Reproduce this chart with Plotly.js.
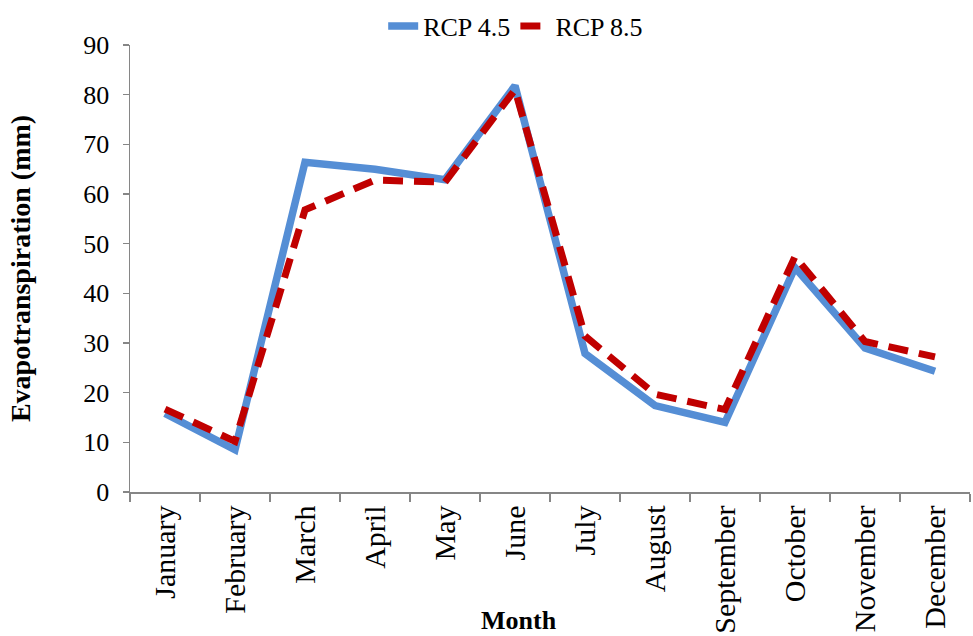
<!DOCTYPE html>
<html lang="en">
  <head>
    <meta charset="UTF-8" />
    <title>Evapotranspiration by Month</title>
    <script src="https://cdn.plot.ly/plotly-3.0.1.min.js"></script>
    <style>
      html,
      body {
        margin: 0;
        padding: 0;
        background: #ffffff;
      }
      #chart {
        width: 973px;
        height: 636px;
      }
    </style>
  </head>
  <body>
    <div id="chart"></div>
    <script>
      // values
      const months = [
        "January", "February", "March", "April", "May", "June",
        "July", "August", "September", "October", "November", "December",
      ];
      const rcp45 = [15.8, 8.5, 66.4, 65.0, 62.9, 81.8, 27.9, 17.4, 14.0, 45.2, 29.0, 24.3];
      const rcp85 = [16.7, 10.2, 56.8, 62.8, 62.4, 81.0, 31.4, 19.7, 16.6, 47.4, 30.3, 27.2];
      const yTicks = [0, 10, 20, 30, 40, 50, 60, 70, 80, 90];

      const serif = "Liberation Serif, Times New Roman, serif";

      const traces = [
        {
          x: months,
          y: rcp45,
          name: "RCP 4.5",
          type: "scatter",
          mode: "lines",
          line: { color: "#558ed5", width: 7.5 },
        },
        {
          x: months,
          y: rcp85,
          name: "RCP 8.5",
          type: "scatter",
          mode: "lines",
          line: { color: "#c00000", width: 7, dash: "20px,11px" },
        },
      ];

      const layout = {
        width: 973,
        height: 636,
        margin: { l: 130, r: 3, t: 45, b: 144, autoexpand: false },
        paper_bgcolor: "#ffffff",
        plot_bgcolor: "#ffffff",
        font: { family: serif, size: 26, color: "#000000" },
        showlegend: true,
        legend: {
          orientation: "h",
          xref: "container",
          yref: "container",
          x: 0.53,
          y: 1 - 26 / 636,
          xanchor: "center",
          yanchor: "middle",
          font: { family: serif, size: 26 },
        },
        xaxis: {
          type: "category",
          range: [-0.5, 11.5],
          tickson: "boundaries",
          ticks: "outside",
          ticklen: 8,
          tickcolor: "#868686",
          tickwidth: 1.5,
          tickangle: -90,
          showline: true,
          linecolor: "#868686",
          linewidth: 1.5,
          showgrid: false,
          zeroline: false,
          tickfont: { family: serif, size: 30 },
          fixedrange: true,
        },
        yaxis: {
          range: [0, 90],
          tickvals: yTicks,
          ticks: "outside",
          ticklen: 6,
          tickcolor: "#868686",
          tickwidth: 1.5,
          ticklabelstandoff: 8,
          showline: true,
          linecolor: "#868686",
          linewidth: 1.5,
          showgrid: false,
          zeroline: false,
          tickfont: { family: serif, size: 26 },
          title: {
            text: "<b>Evapotranspiration (mm)</b>",
            font: { family: serif, size: 28 },
            standoff: 44,
          },
          fixedrange: true,
        },
        annotations: [
          {
            text: "<b>Month</b>",
            xref: "paper",
            yref: "paper",
            x: 0.463,
            y: -0.288,
            xanchor: "center",
            yanchor: "middle",
            showarrow: false,
            font: { family: serif, size: 26 },
          },
        ],
      };

      Plotly.newPlot("chart", traces, layout, { displayModeBar: false, staticPlot: true });
    </script>
  </body>
</html>
